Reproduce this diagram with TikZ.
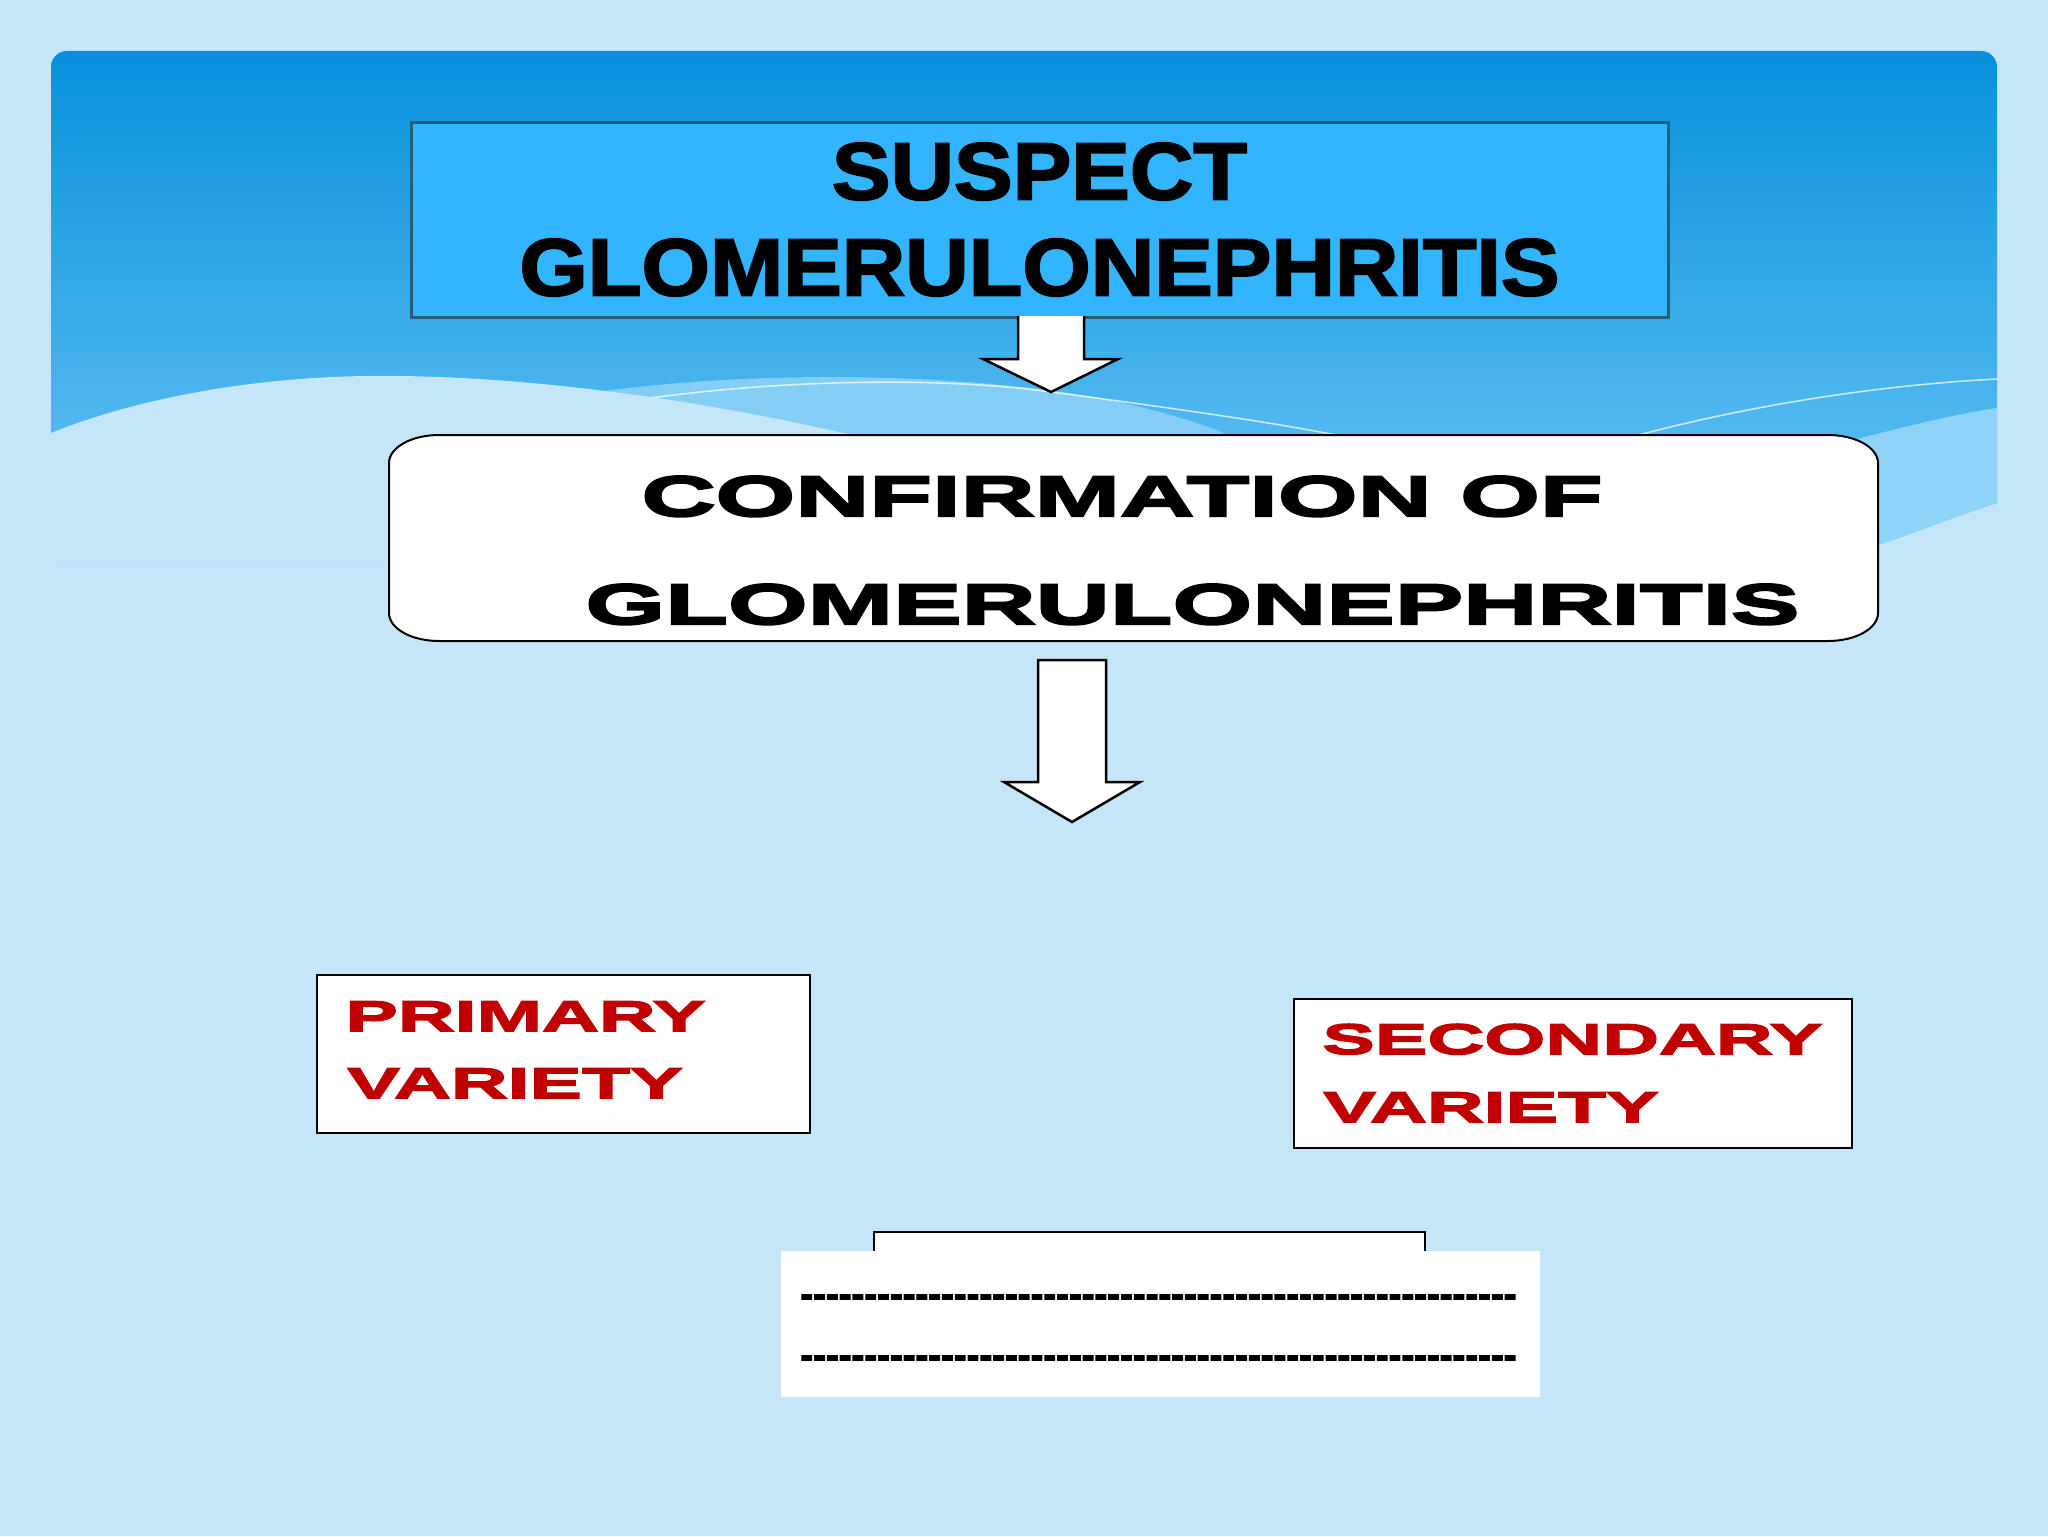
\documentclass[tikz,border=0pt]{standalone}
\usepackage{fontspec}
\setmainfont{Liberation Sans}
\newfontfamily\susfont{Liberation Sans}[FakeStretch=1.085,FakeBold=2.5]
\newfontfamily\conffont{Liberation Sans}[FakeStretch=1.8,FakeBold=4]
\newfontfamily\varfont{Liberation Sans}[FakeStretch=1.83,FakeBold=3.5]
\newfontfamily\dashfont{Liberation Sans}[FakeBold=3]
\definecolor{bgc}{HTML}{C5E5F9}
\definecolor{bantop}{HTML}{0890DC}
\definecolor{banmid}{HTML}{45B2EE}
\definecolor{banbot}{HTML}{6AC6F6}
\definecolor{bandc}{HTML}{84CDF5}
\definecolor{bandr}{HTML}{8FD4F8}
\definecolor{susfill}{HTML}{33B5FE}
\definecolor{susedge}{HTML}{215E7A}
\definecolor{varred}{HTML}{C00000}
\tikzset{
  susbox/.style={draw=susedge, fill=susfill, line width=1.5pt, inner sep=0pt, align=center,
    font=\susfont\bfseries\fontsize{40.5}{48}\selectfont},
  plainbox/.style={draw=black, fill=white, line width=1pt, inner sep=0pt},
  conftext/.style={anchor=base west, inner sep=0pt, font=\conffont\bfseries\fontsize{28.5}{30}\selectfont},
  vartext/.style={anchor=base west, inner sep=0pt, text=varred, font=\varfont\bfseries\fontsize{21.5}{22}\selectfont},
  dashtext/.style={anchor=base west, inner sep=0pt, font=\dashfont\bfseries\fontsize{19.2}{20}\selectfont},
  blockarrow/.style={draw=black, line width=1.25pt, line join=miter},
  waveline/.style={white, opacity=0.7, line width=0.8pt}
}
\begin{document}
\begin{tikzpicture}[x=0.5pt,y=-0.5pt]
% page background
\fill[bgc] (0,0) rectangle (2048,1536);
\useasboundingbox (0,0) rectangle (2048,1536);
% banner
\begin{scope}
  \clip[rounded corners=8pt] (51,51) rectangle (1997,700);
  \clip (0,0) -- (2048,0) -- (2048,503) -- (1997,503) .. controls (1950,518) and (1915,533) .. (1878,545) -- (1800,565) -- (0,565) -- cycle;
  \shade[top color=bantop, middle color=banmid, bottom color=banbot] (51,51) rectangle (1997,565);
  \fill[bandc] (590,393) .. controls (750,370) and (950,372) .. (1100,398) .. controls (1150,408) and (1200,422) .. (1230,436) -- (1230,565) -- (590,565) -- cycle;
  \fill[bandr] (1830,446) .. controls (1900,428) and (1950,415) .. (1997,408) -- (1997,565) -- (1830,565) -- cycle;
  \draw[waveline] (650,398) .. controls (800,378) and (950,378) .. (1051,392) .. controls (1150,405) and (1280,423) .. (1345,437);
  \draw[waveline] (1631,437) .. controls (1750,405) and (1880,385) .. (1997,379);
  \fill[bgc] (51,433) .. controls (120,405) and (230,378) .. (366,376) .. controls (520,374) and (700,400) .. (843,433) .. controls (870,440) and (900,450) .. (920,460) -- (920,700) -- (0,700) -- (0,433) -- cycle;
\end{scope}

% suspect box
\node[susbox, minimum width=628.5pt, minimum height=97.5pt] (susp) at (1039.5,219.5) {SUSPECT\\GLOMERULONEPHRITIS};

% arrow 1
\fill[white] (1018,316) -- (1018,359) -- (983,359) -- (1051,392) -- (1118,359) -- (1084,359) -- (1084,316) -- cycle;
\draw[blockarrow] (1018,316) -- (1018,359) -- (983,359) -- (1051,392) -- (1118,359) -- (1084,359) -- (1084,316);

% confirmation box
\node[minimum width=744.5pt, minimum height=103pt, inner sep=0pt] (conf) at (1133.5,538) {};
\draw[fill=white, line width=1pt] (439,435) -- (1828,435) .. controls (1855.6,435) and (1878,447.5) .. (1878,463) -- (1878,613) .. controls (1878,628.5) and (1855.6,641) .. (1828,641) -- (439,641) .. controls (411.4,641) and (389,628.5) .. (389,613) -- (389,463) .. controls (389,447.5) and (411.4,435) .. (439,435) -- cycle;
\node[conftext] (conf1) at (641,516) {CONFIRMATION OF};
\node[conftext] (conf2) at (585,624) {GLOMERULONEPHRITIS};

% arrow 2
\draw[blockarrow, fill=white] (1038,660) -- (1038,782) -- (1004,782) -- (1072,822) -- (1140,782) -- (1106,782) -- (1106,660) -- cycle;

% primary / secondary boxes
\node[plainbox, minimum width=246.5pt, minimum height=79pt] (prim) at (563.5,1054) {};
\node[vartext] (prim1) at (345,1031) {PRIMARY};
\node[vartext] (prim2) at (347,1098) {VARIETY};

\node[plainbox, minimum width=279pt, minimum height=74.5pt] (sec) at (1573,1073.5) {};
\node[vartext] (sec1) at (1322,1054) {SECONDARY};
\node[vartext] (sec2) at (1323,1122) {VARIETY};

% bottom blank box
\fill[white] (874,1232) rectangle (1425,1253);
\draw[line width=1pt] (874,1252) -- (874,1232) -- (1425,1232) -- (1425,1252);
\node[fill=white, minimum width=379.5pt, minimum height=73pt, inner sep=0pt] (blank) at (1160.5,1324) {};
\node[dashtext] (dash1) at (800,1307) {\foreach \i in {1,...,56}{-}};
\node[dashtext] (dash2) at (800,1368) {\foreach \i in {1,...,56}{-}};
\end{tikzpicture}
\end{document}
